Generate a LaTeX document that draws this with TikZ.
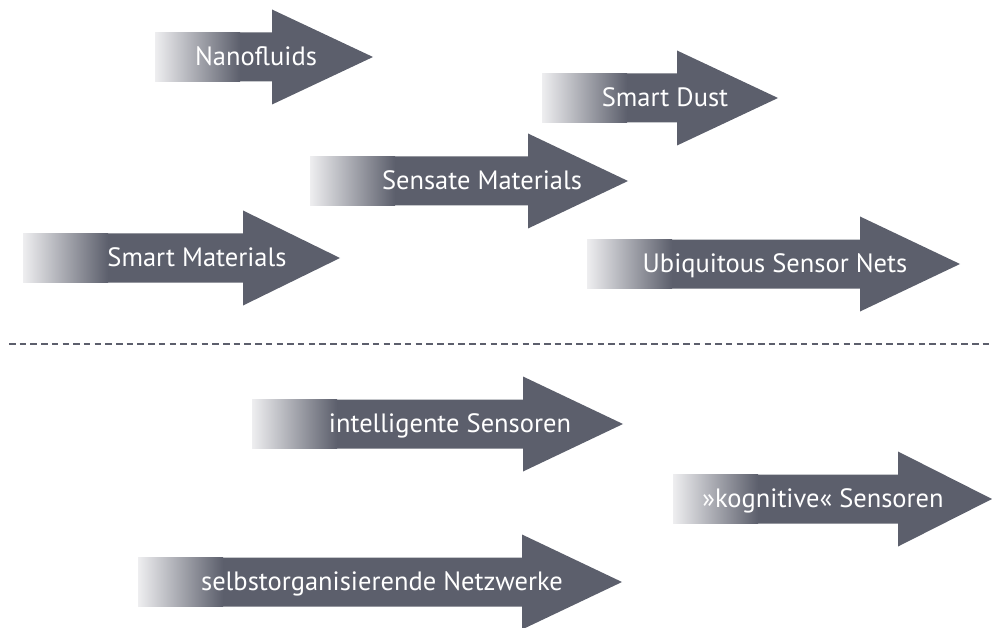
\documentclass[tikz,border=0pt]{standalone}
\usepackage{fontspec}
\setmainfont{PT Sans}
\definecolor{arrowgray}{RGB}{92,95,108}
\definecolor{fadegray}{RGB}{238,238,240}
\tikzset{
  arrowlabel/.style={text=white, font=\fontsize{26.5}{30}\selectfont, inner sep=0pt, anchor=base},
  seprule/.style={draw=arrowgray, line width=2.5pt, dash pattern=on 6.5pt off 4.2pt},
}
% #1 name, #2 left x, #3 head base x, #4 tip x, #5 centre y, #6 text centre x, #7 text
\newcommand{\bigarrow}[7]{%
  \fill[arrowgray] (#2,#5-24.5) -- (#3,#5-24.5) -- (#3,#5-47.5) -- (#4,#5)
     -- (#3,#5+47.5) -- (#3,#5+24.5) -- (#2,#5+24.5) -- cycle;
  \shade[left color=fadegray,right color=arrowgray] (#2,#5-24.5) rectangle (#2+85,#5+24.5);
  \node[arrowlabel] (#1) at (#6,#5+8.5) {#7};
}
\begin{document}
\begin{tikzpicture}[x=1pt,y=-1pt]
\useasboundingbox (0,0) rectangle (992,628);
\bigarrow{nano}{155}{272}{373}{57}{256}{Nanofluids}
\bigarrow{dust}{542}{677}{778}{98}{665}{Smart Dust}
\bigarrow{sensate}{310}{528}{628}{181}{482}{Sensate Materials}
\bigarrow{smartmat}{23}{243}{340}{258}{197}{Smart Materials}
\bigarrow{ubi}{587}{860}{960}{264}{775}{Ubiquitous Sensor Nets}
\coordinate (sepL) at (9,344);
\coordinate (sepR) at (992,344);
\draw[seprule] (sepL) -- (sepR);
\bigarrow{intel}{252}{523}{623}{424}{450}{intelligente Sensoren}
\bigarrow{kogn}{673}{898}{992}{499}{823}{»kognitive« Sensoren}
\bigarrow{selbst}{138}{522}{622}{582}{382}{selbstorganisierende Netzwerke}
\end{tikzpicture}
\end{document}
